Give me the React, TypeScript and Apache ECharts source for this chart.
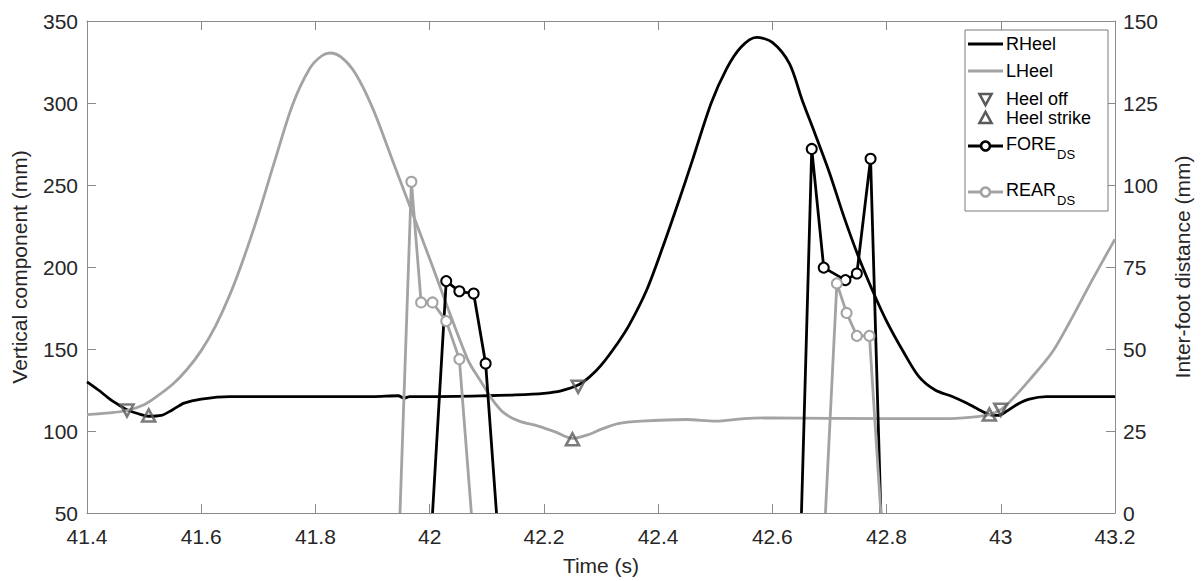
import React, { useEffect, useRef } from "react";
import * as echarts from "echarts";

// Time (s), vertical component (mm)
const rHeel: [number, number][] = [
  [41.4, 130], [41.42, 125], [41.44, 119.5], [41.46, 115], [41.47, 113], [41.49, 110.5],
  [41.508, 109], [41.53, 109.5], [41.55, 113], [41.57, 117], [41.6, 119.5], [41.65, 121],
  [41.7, 121], [41.8, 121], [41.9, 121], [41.945, 121.5], [41.955, 120], [41.965, 121],
  [42.0, 121], [42.1, 121.5], [42.15, 122], [42.2, 123], [42.23, 124.5], [42.26, 128],
  [42.28, 133], [42.3, 140], [42.33, 154], [42.35, 165], [42.38, 186], [42.408, 212],
  [42.437, 241], [42.46, 265], [42.493, 300], [42.52, 321], [42.545, 334], [42.572, 340],
  [42.6, 337], [42.63, 324], [42.652, 302], [42.675, 281], [42.7, 257.5], [42.725, 231],
  [42.75, 207], [42.775, 186], [42.8, 167], [42.83, 148], [42.857, 133], [42.885, 125],
  [42.915, 121], [42.94, 117], [42.967, 112], [42.98, 110], [42.995, 109.5], [43.01, 112],
  [43.03, 116.5], [43.05, 119.5], [43.08, 121], [43.2, 121],
];

const lHeel: [number, number][] = [
  [41.4, 110], [41.44, 111], [41.47, 112.5], [41.5, 116], [41.52, 120.5], [41.55, 128.5],
  [41.575, 137.5], [41.6, 149], [41.625, 164], [41.65, 183], [41.675, 206], [41.7, 232],
  [41.729, 265], [41.76, 299], [41.79, 321], [41.81, 328.5], [41.825, 330.5], [41.845, 328],
  [41.87, 318], [41.9, 297], [41.935, 265], [42.0, 205], [42.066, 144], [42.09, 130],
  [42.11, 119], [42.13, 111], [42.157, 106], [42.19, 103], [42.22, 99.5], [42.25, 95.5],
  [42.28, 98], [42.3, 101], [42.33, 104.5], [42.37, 106], [42.45, 107], [42.5, 106],
  [42.55, 107.5], [42.6, 108], [42.8, 107.5], [42.9, 107.5], [42.95, 108.5], [42.98, 110],
  [43.0, 113], [43.015, 117.5], [43.05, 131], [43.09, 148], [43.12, 166], [43.16, 192], [43.2, 217],
];

const heelOff: [number, number][] = [[41.47, 112.5], [42.26, 127], [43.0, 113]];
const heelStrike: [number, number][] = [[41.508, 109.5], [42.25, 95], [42.98, 110]];

// Inter-foot distance (mm)
const foreDS: [number, number | string][] = [
  [42.005, 0], [42.029, 70.7], [42.052, 67.6], [42.077, 66.9], [42.098, 45.6], [42.117, 0],
  [42.4, "-"],
  [42.651, 0], [42.669, 111], [42.69, 74.8], [42.728, 71], [42.748, 73], [42.772, 108], [42.79, 0],
];
const rearDS: [number, number | string][] = [
  [41.948, 0], [41.968, 101], [41.985, 64.2], [42.005, 64.2], [42.029, 58.5], [42.052, 46.9], [42.073, 0],
  [42.4, "-"],
  [42.693, 0], [42.713, 70], [42.73, 61], [42.748, 54], [42.77, 54], [42.79, 0],
];

const BLACK = "#000000";
const GREY = "#a3a3a3";
const MARK = "#5a5a5a";
const AXIS = "#8a8a8a";
const TXT = "#262626";
const FONT = "'Liberation Sans', Arial, sans-serif";

export default function App() {
  const ref = useRef<HTMLDivElement>(null);
  useEffect(() => {
    if (!ref.current) return;
    const chart = echarts.init(ref.current, null, { renderer: "svg" });

    const zeroSym = (d: [number, number | string][]) =>
      d.map((p) => (p[1] === 0 ? { value: p, symbol: "none" } : { value: p }));

    const xCommon = {
      type: "value" as const,
      min: 41.4,
      max: 43.2,
      interval: 0.2,
      splitLine: { show: false },
      axisLine: { show: true, onZero: false, lineStyle: { color: AXIS, width: 1 } },
      axisTick: { show: true, inside: true, length: 9, lineStyle: { color: AXIS } },
    };

    const legendY = { rh: 44, lh: 71, off: 99, str: 118, fore: 146, rear: 192 };
    const lx0 = 968, lx1 = 1003, lc = 985.5, tx = 1006;
    const LF = 18;

    chart.setOption({
      animation: false,
      backgroundColor: "#ffffff",
      textStyle: { fontFamily: FONT },
      grid: { left: 87, right: 85, top: 21, bottom: 67, containLabel: false },
      xAxis: [
        {
          ...xCommon,
          position: "bottom",
          name: "Time (s)",
          nameLocation: "middle",
          nameGap: 42,
          nameTextStyle: { color: TXT, fontSize: 21, fontFamily: FONT },
          axisLabel: {
            color: TXT,
            fontSize: 21,
            fontFamily: FONT,
            margin: 13,
            formatter: (v: number) => String(Number(v.toFixed(1))),
          },
        },
        {
          ...xCommon,
          position: "top",
          axisLabel: { show: false },
        },
      ],
      yAxis: [
        {
          type: "value",
          position: "left",
          min: 50,
          max: 350,
          interval: 50,
          name: "Vertical component (mm)",
          nameLocation: "middle",
          nameGap: 57,
          nameTextStyle: { color: TXT, fontSize: 21, fontFamily: FONT },
          splitLine: { show: false },
          axisLine: { show: true, lineStyle: { color: AXIS, width: 1 } },
          axisTick: { show: true, inside: true, length: 9, lineStyle: { color: AXIS } },
          axisLabel: { color: TXT, fontSize: 21, fontFamily: FONT, margin: 9 },
        },
        {
          type: "value",
          position: "right",
          min: 0,
          max: 150,
          interval: 25,
          name: "Inter-foot distance (mm)",
          nameLocation: "middle",
          nameGap: 57,
          nameTextStyle: { color: TXT, fontSize: 21, fontFamily: FONT },
          splitLine: { show: false },
          axisLine: { show: true, lineStyle: { color: AXIS, width: 1 } },
          axisTick: { show: true, inside: true, length: 9, lineStyle: { color: AXIS } },
          axisLabel: { color: TXT, fontSize: 21, fontFamily: FONT, margin: 8 },
        },
      ],
      series: [
        {
          name: "RHeel",
          type: "line",
          xAxisIndex: 0,
          yAxisIndex: 0,
          data: rHeel,
          showSymbol: false,
          smooth: 0.3,
          lineStyle: { color: BLACK, width: 2.8 },
          itemStyle: { color: BLACK },
        },
        {
          name: "LHeel",
          type: "line",
          xAxisIndex: 0,
          yAxisIndex: 0,
          data: lHeel,
          showSymbol: false,
          smooth: 0.3,
          lineStyle: { color: GREY, width: 2.8 },
          itemStyle: { color: GREY },
        },
        {
          name: "Heel off",
          type: "scatter",
          xAxisIndex: 0,
          yAxisIndex: 0,
          data: heelOff,
          symbol: "triangle",
          symbolRotate: 180,
          symbolSize: [13, 12],
          itemStyle: { color: "rgba(255,255,255,0)", borderColor: MARK, borderWidth: 2.6 },
          z: 3,
        },
        {
          name: "Heel strike",
          type: "scatter",
          xAxisIndex: 0,
          yAxisIndex: 0,
          data: heelStrike,
          symbol: "triangle",
          symbolSize: [13, 12],
          itemStyle: { color: "rgba(255,255,255,0)", borderColor: MARK, borderWidth: 2.6 },
          z: 3,
        },
        {
          name: "FORE_DS",
          type: "line",
          xAxisIndex: 0,
          yAxisIndex: 1,
          data: zeroSym(foreDS),
          symbol: "emptyCircle",
          symbolSize: 10,
          showAllSymbol: true,
          connectNulls: false,
          lineStyle: { color: BLACK, width: 2.8 },
          itemStyle: { color: BLACK, borderColor: BLACK, borderWidth: 2.6 },
          z: 4,
        },
        {
          name: "REAR_DS",
          type: "line",
          xAxisIndex: 0,
          yAxisIndex: 1,
          data: zeroSym(rearDS),
          symbol: "emptyCircle",
          symbolSize: 10,
          showAllSymbol: true,
          connectNulls: false,
          lineStyle: { color: GREY, width: 2.8 },
          itemStyle: { color: GREY, borderColor: GREY, borderWidth: 2.6 },
          z: 5,
        },
      ],
      graphic: [
        {
          type: "rect",
          shape: { x: 965, y: 30, width: 143, height: 181 },
          style: { fill: "#ffffff", stroke: "#7a7a7a", lineWidth: 1 },
          z: 100,
        },
        { type: "line", shape: { x1: lx0, y1: legendY.rh, x2: lx1, y2: legendY.rh }, style: { stroke: BLACK, lineWidth: 3 }, z: 101 },
        { type: "text", x: tx, y: legendY.rh, style: { text: "RHeel", fontSize: LF, fontFamily: FONT, fill: "#000", verticalAlign: "middle" }, z: 101 },
        { type: "line", shape: { x1: lx0, y1: legendY.lh, x2: lx1, y2: legendY.lh }, style: { stroke: GREY, lineWidth: 3 }, z: 101 },
        { type: "text", x: tx, y: legendY.lh, style: { text: "LHeel", fontSize: LF, fontFamily: FONT, fill: "#000", verticalAlign: "middle" }, z: 101 },
        {
          type: "polygon",
          shape: { points: [[lc - 6, legendY.off - 5], [lc + 6, legendY.off - 5], [lc, legendY.off + 6]] },
          style: { fill: "none", stroke: MARK, lineWidth: 2.6 },
          z: 101,
        },
        { type: "text", x: tx, y: legendY.off, style: { text: "Heel off", fontSize: LF, fontFamily: FONT, fill: "#000", verticalAlign: "middle" }, z: 101 },
        {
          type: "polygon",
          shape: { points: [[lc - 6, legendY.str + 5], [lc + 6, legendY.str + 5], [lc, legendY.str - 6]] },
          style: { fill: "none", stroke: MARK, lineWidth: 2.6 },
          z: 101,
        },
        { type: "text", x: tx, y: legendY.str, style: { text: "Heel strike", fontSize: LF, fontFamily: FONT, fill: "#000", verticalAlign: "middle" }, z: 101 },
        { type: "line", shape: { x1: lx0, y1: legendY.fore, x2: lx1, y2: legendY.fore }, style: { stroke: BLACK, lineWidth: 3 }, z: 101 },
        { type: "circle", shape: { cx: lc, cy: legendY.fore, r: 4.5 }, style: { fill: "#fff", stroke: BLACK, lineWidth: 2.6 }, z: 102 },
        { type: "text", x: tx, y: legendY.fore - 2, style: { text: "FORE", fontSize: LF, fontFamily: FONT, fill: "#000", verticalAlign: "middle" }, z: 101 },
        { type: "text", x: tx + 51, y: legendY.fore + 8, style: { text: "DS", fontSize: 13, fontFamily: FONT, fill: "#000", verticalAlign: "middle" }, z: 101 },
        { type: "line", shape: { x1: lx0, y1: legendY.rear, x2: lx1, y2: legendY.rear }, style: { stroke: GREY, lineWidth: 3 }, z: 101 },
        { type: "circle", shape: { cx: lc, cy: legendY.rear, r: 4.5 }, style: { fill: "#fff", stroke: GREY, lineWidth: 2.6 }, z: 102 },
        { type: "text", x: tx, y: legendY.rear - 2, style: { text: "REAR", fontSize: LF, fontFamily: FONT, fill: "#000", verticalAlign: "middle" }, z: 101 },
        { type: "text", x: tx + 51, y: legendY.rear + 8, style: { text: "DS", fontSize: 13, fontFamily: FONT, fill: "#000", verticalAlign: "middle" }, z: 101 },
      ],
    });
    return () => chart.dispose();
  }, []);

  return (
    <div
      ref={ref}
      style={{ position: "fixed", left: 0, top: 0, width: 1201, height: 581, background: "#fff" }}
    />
  );
}
